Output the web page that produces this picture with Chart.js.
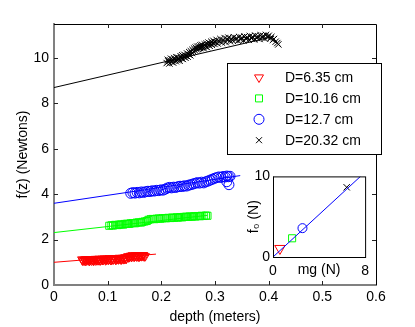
<!DOCTYPE html>
<html>
<head>
<meta charset="utf-8">
<script src="https://cdn.jsdelivr.net/npm/chart.js@4.4.1/dist/chart.umd.min.js"></script>
<style>
body { margin: 0; background: #fff; }
#wrap { position: relative; width: 415px; height: 327px; }
#main { position: absolute; left: 0; top: 0; }
#inset { position: absolute; left: 240px; top: 165px; }
</style>
</head>
<body>
<div id="wrap">
<canvas id="main" width="415" height="327"></canvas>
<canvas id="inset" width="135" height="115"></canvas>
</div>
<script>
// main axes: depth (m) vs f(z) (N)
const xTicks = [0, 0.1, 0.2, 0.3, 0.4, 0.5, 0.6];
const xTickLabels = ['0', '0.1', '0.2', '0.3', '0.4', '0.5', '0.6'];
const yTicks = [0, 2, 4, 6, 8, 10];
const yTickLabels = ['0', '2', '4', '6', '8', '10'];
const legendLabels = ['D=6.35 cm', 'D=10.16 cm', 'D=12.7 cm', 'D=20.32 cm'];

const redPts = [[0.052,1.13],[0.053,1.09],[0.054,1.07],[0.056,1.12],[0.057,1.10],[0.058,1.06],[0.059,1.14],[0.060,1.11],[0.061,1.08],[0.063,1.13],
  [0.064,1.12],[0.065,1.09],[0.066,1.06],[0.067,1.14],[0.068,1.11],[0.070,1.08],[0.071,1.14],[0.072,1.12],[0.073,1.09],[0.074,1.07],
  [0.075,1.13],[0.077,1.15],[0.078,1.08],[0.079,1.11],[0.080,1.15],[0.082,1.09],[0.083,1.11],[0.084,1.16],[0.085,1.14],[0.086,1.08],
  [0.087,1.10],[0.089,1.13],[0.090,1.16],[0.091,1.10],[0.092,1.12],[0.094,1.17],[0.095,1.15],[0.096,1.09],[0.097,1.11],[0.098,1.14],
  [0.099,1.17],[0.101,1.11],[0.102,1.13],[0.103,1.18],[0.104,1.16],[0.106,1.10],[0.107,1.12],[0.108,1.15],[0.109,1.18],[0.110,1.12],
  [0.111,1.14],[0.113,1.19],[0.114,1.17],[0.115,1.11],[0.116,1.13],[0.118,1.16],[0.119,1.19],[0.120,1.13],[0.121,1.15],[0.122,1.20],
  [0.123,1.18],[0.125,1.12],[0.126,1.14],[0.127,1.17],[0.128,1.20],[0.130,1.14],[0.131,1.16],[0.132,1.22],[0.133,1.21],[0.134,1.15],
  [0.135,1.17],[0.137,1.24],[0.138,1.27],[0.139,1.22],[0.140,1.23],[0.142,1.28],[0.143,1.29],[0.144,1.24],[0.145,1.25],[0.146,1.31],
  [0.147,1.30],[0.149,1.25],[0.150,1.26],[0.151,1.29],[0.152,1.31],[0.154,1.26],[0.155,1.27],[0.156,1.32],[0.157,1.30],[0.158,1.25],
  [0.159,1.26],[0.161,1.29],[0.162,1.32],[0.163,1.27],[0.164,1.28],[0.166,1.32],[0.167,1.31],[0.168,1.26],[0.170,1.27]];
const greenPts = [[0.103,2.61],[0.107,2.63],[0.110,2.62],[0.114,2.65],[0.118,2.64],[0.121,2.66],[0.125,2.67],[0.129,2.66],[0.132,2.69],[0.136,2.70],
  [0.140,2.69],[0.143,2.72],[0.147,2.73],[0.151,2.72],[0.154,2.75],[0.158,2.76],[0.162,2.75],[0.165,2.78],[0.169,2.80],[0.173,2.82],
  [0.176,2.87],[0.180,2.90],[0.184,2.91],[0.187,2.90],[0.191,2.92],[0.195,2.93],[0.198,2.92],[0.202,2.94],[0.206,2.95],[0.209,2.94],
  [0.213,2.96],[0.217,2.95],[0.220,2.97],[0.224,2.96],[0.228,2.98],[0.231,2.97],[0.235,2.99],[0.239,2.98],[0.242,3.00],[0.246,3.01],
  [0.250,3.00],[0.253,3.02],[0.257,3.01],[0.261,3.03],[0.264,3.02],[0.268,3.04],[0.272,3.03],[0.275,3.05],[0.279,3.04],[0.283,3.06],[0.286,3.05]];
const bluePts = [[0.143,4.04],[0.147,4.07],[0.151,4.05],[0.155,4.08],[0.159,4.06],[0.163,4.10],[0.167,4.08],[0.171,4.11],[0.175,4.13],[0.179,4.12],
  [0.183,4.15],[0.187,4.14],[0.191,4.17],[0.195,4.16],[0.199,4.19],[0.203,4.18],[0.207,4.22],[0.211,4.27],[0.215,4.30],[0.219,4.28],
  [0.223,4.31],[0.227,4.30],[0.231,4.33],[0.235,4.35],[0.239,4.34],[0.243,4.37],[0.247,4.36],[0.251,4.40],[0.255,4.42],[0.259,4.45],
  [0.263,4.48],[0.267,4.51],[0.271,4.49],[0.275,4.53],[0.279,4.50],[0.283,4.55],[0.287,4.58],[0.291,4.62],[0.295,4.66],[0.299,4.70],
  [0.303,4.73],[0.307,4.76],[0.311,4.74],[0.315,4.78],[0.319,4.76],[0.322,4.80],[0.325,4.77],[0.328,4.79],[0.322,4.55],[0.326,4.42]];
const blackPts = [[0.210,9.78],[0.212,9.92],[0.213,9.85],[0.215,9.76],[0.216,9.90],[0.218,9.97],[0.219,9.83],[0.221,9.92],[0.222,9.80],[0.224,10.00],
  [0.225,9.93],[0.227,9.86],[0.228,10.04],[0.230,9.91],[0.231,10.02],[0.233,9.96],[0.234,9.88],[0.236,10.08],[0.237,9.99],[0.239,10.12],
  [0.240,9.96],[0.242,10.06],[0.243,10.14],[0.245,10.01],[0.246,10.10],[0.248,10.20],[0.249,10.06],[0.251,10.16],[0.252,10.26],[0.254,10.12],
  [0.255,10.30],[0.257,10.22],[0.258,10.36],[0.260,10.28],[0.261,10.42],[0.263,10.33],[0.264,10.46],[0.266,10.38],[0.267,10.50],[0.269,10.40],
  [0.270,10.52],[0.272,10.44],[0.273,10.56],[0.275,10.47],[0.276,10.58],[0.278,10.50],[0.279,10.43],[0.281,10.60],[0.282,10.52],[0.284,10.63],
  [0.285,10.48],[0.287,10.60],[0.288,10.68],[0.290,10.54],[0.291,10.64],[0.293,10.72],[0.294,10.58],[0.296,10.66],[0.297,10.76],[0.299,10.62],
  [0.300,10.70],[0.303,10.80],[0.305,10.64],[0.308,10.74],[0.310,10.84],[0.313,10.68],[0.315,10.78],[0.318,10.88],[0.320,10.70],[0.323,10.82],
  [0.325,10.90],[0.328,10.74],[0.330,10.85],[0.333,10.78],[0.335,10.92],[0.338,10.80],[0.340,10.88],[0.343,10.76],[0.345,10.93],[0.348,10.82],
  [0.350,10.90],[0.353,10.78],[0.355,10.95],[0.358,10.84],[0.360,10.92],[0.363,10.80],[0.365,10.97],[0.368,10.86],[0.370,10.94],[0.373,10.82],
  [0.375,10.99],[0.378,10.88],[0.380,10.96],[0.383,10.84],[0.385,11.00],[0.388,10.90],[0.390,10.98],[0.393,10.86],[0.395,11.02],[0.398,10.92],
  [0.400,10.98],[0.403,10.86],[0.405,10.93],[0.408,10.80],[0.410,10.84],[0.413,10.72],[0.416,10.66],[0.418,10.60]];

// fitted lines (two end points each)
const redFit = [[0, 1.0], [0.19, 1.36]];
const greenFit = [[0, 2.31], [0.286, 3.07]];
const blueFit = [[0, 3.6], [0.347, 4.82]];
const blackFit = [[0, 8.7], [0.41, 10.95]];

// inset: mg (N) vs f0 (N)
const insetMg = [0.6, 1.66, 2.56, 6.4];
const insetF0 = [1.06, 2.32, 3.58, 8.65];
const insetFit = [[0, 0], [7.6, 10]];
const insetXTicks = [0, 8];
const insetYTicks = [0, 10];

const FONT = '"Liberation Sans", Arial, Helvetica, sans-serif';
Chart.defaults.font.family = FONT;
Chart.defaults.font.size = 14;
Chart.defaults.color = '#000';

const pts = a => a.map(p => ({x: p[0], y: p[1]}));
const line = (d, c) => ({data: pts(d), showLine: true, borderColor: c, borderWidth: 1, pointRadius: 0, order: 0});
const marks = (d, c, style, r, extra) => Object.assign({data: pts(d), pointStyle: style, pointRadius: r,
  borderColor: c, backgroundColor: 'rgba(0,0,0,0)', pointBorderWidth: 1, borderWidth: 1, order: 1}, extra || {});

function drawMarker(ctx, kind, x, y, color) {
  ctx.strokeStyle = color;
  ctx.lineWidth = 1;
  ctx.beginPath();
  if (kind === 'tri') {
    ctx.moveTo(x, y + 5); ctx.lineTo(x - 4.5, y - 2.6); ctx.lineTo(x + 4.5, y - 2.6); ctx.closePath();
  } else if (kind === 'sq') {
    ctx.rect(x - 3.5, y - 3.5, 7, 7);
  } else if (kind === 'circ') {
    ctx.arc(x, y, 5, 0, Math.PI * 2);
  } else {
    ctx.moveTo(x - 3, y - 3); ctx.lineTo(x + 3, y + 3); ctx.moveTo(x + 3, y - 3); ctx.lineTo(x - 3, y + 3);
  }
  ctx.stroke();
}

const frame = {
  id: 'frame',
  afterDraw(chart) {
    const {ctx, chartArea: a, scales: {x, y}} = chart;
    ctx.save();
    ctx.strokeStyle = '#000';
    ctx.lineWidth = 1;
    ctx.beginPath();
    ctx.moveTo(a.left, a.top + 0.5); ctx.lineTo(a.right + 0.5, a.top + 0.5); ctx.lineTo(a.right + 0.5, a.bottom);
    ctx.stroke();
    ctx.strokeStyle = '#222';
    ctx.beginPath();
    xTicks.slice(1, -1).forEach(v => {
      const px = Math.round(x.getPixelForValue(v)) + 0.5;
      ctx.moveTo(px, a.bottom); ctx.lineTo(px, a.bottom - 4);
      ctx.moveTo(px, a.top); ctx.lineTo(px, a.top + 4);
    });
    yTicks.slice(1).forEach(v => {
      const py = Math.round(y.getPixelForValue(v)) + 0.5;
      ctx.moveTo(a.left, py); ctx.lineTo(a.left + 4, py);
      ctx.moveTo(a.right, py); ctx.lineTo(a.right - 4, py);
    });
    ctx.stroke();

    // legend box
    const lx = 227.5, ly = 63.5, lw = 154, lh = 91;
    ctx.fillStyle = '#fff';
    ctx.fillRect(lx, ly, lw, lh);
    ctx.strokeStyle = '#000';
    ctx.strokeRect(lx, ly, lw, lh);
    const kinds = ['tri', 'sq', 'circ', 'x'];
    const colors = ['#ff0000', '#00ff00', '#0000ff', '#000000'];
    ctx.font = '14px ' + FONT;
    ctx.textBaseline = 'middle';
    ctx.textAlign = 'left';
    legendLabels.forEach((t, i) => {
      const ry = 77.5 + i * 20.9;
      drawMarker(ctx, kinds[i], 259, ry, colors[i]);
      ctx.fillStyle = '#000';
      ctx.fillText(t, 285, ry + 0.5);
    });
    ctx.restore();
  }
};

new Chart(document.getElementById('main'), {
  type: 'scatter',
  data: {
    datasets: [
      line(redFit, '#ff0000'), line(greenFit, '#00ff00'), line(blueFit, '#0000ff'), line(blackFit, '#000000'),
      marks(redPts, '#ff0000', 'triangle', 5, {rotation: 180}),
      marks(greenPts, '#00ff00', 'rect', 5),
      marks(bluePts, '#0000ff', 'circle', 5),
      marks(blackPts, '#000000', 'crossRot', 4.5)
    ]
  },
  options: {
    responsive: false,
    animation: false,
    devicePixelRatio: 1,
    layout: {padding: {top: 24, right: 39, left: 0, bottom: 0}},
    plugins: {legend: {display: false}, tooltip: {enabled: false}},
    scales: {
      x: {
        type: 'linear', min: 0, max: 0.6,
        afterFit: s => { s.height = 42; },
        afterBuildTicks: s => { s.ticks = xTicks.map(v => ({value: v})); },
        ticks: {callback: (v, i) => xTickLabels[i], padding: 4, autoSkip: false, maxRotation: 0},
        grid: {display: false, drawTicks: false},
        border: {color: '#808080', width: 2},
        title: {display: true, text: 'depth (meters)', padding: {top: 0, bottom: 1}}
      },
      y: {
        type: 'linear', min: 0, max: 11.5,
        afterFit: s => { s.width = 54; },
        afterBuildTicks: s => { s.ticks = yTicks.map(v => ({value: v})); },
        ticks: {callback: (v, i) => yTickLabels[i], padding: 5, autoSkip: false},
        grid: {display: false, drawTicks: false},
        border: {color: '#808080', width: 2},
        title: {display: true, text: 'f(z) (Newtons)', padding: {top: 15, bottom: 0}}
      }
    }
  },
  plugins: [frame]
});

const insetFrame = {
  id: 'insetFrame',
  beforeDatasetsDraw(chart) {
    const {ctx, chartArea: a} = chart;
    ctx.save();
    ctx.fillStyle = '#fff';
    ctx.fillRect(a.left, a.top, a.right - a.left, a.bottom - a.top);
    ctx.restore();
  },
  afterDraw(chart) {
    const {ctx, chartArea: a} = chart;
    ctx.save();
    ctx.strokeStyle = '#000';
    ctx.lineWidth = 1;
    ctx.strokeRect(a.left + 0.5, a.top + 0.5, a.right - a.left, a.bottom - a.top);
    ctx.restore();
  }
};

const insetPoint = i => [[insetMg[i], insetF0[i]]];

new Chart(document.getElementById('inset'), {
  type: 'scatter',
  data: {
    datasets: [
      line(insetFit, '#0000ff'),
      marks(insetPoint(0), '#ff0000', 'triangle', 6, {rotation: 180}),
      marks(insetPoint(1), '#00ff00', 'rect', 5),
      marks(insetPoint(2), '#0000ff', 'circle', 4.5),
      marks(insetPoint(3), '#000000', 'crossRot', 4.5)
    ]
  },
  options: {
    responsive: false,
    animation: false,
    devicePixelRatio: 1,
    layout: {padding: {top: 10, right: 9, left: 0, bottom: 0}},
    plugins: {legend: {display: false}, tooltip: {enabled: false}},
    scales: {
      x: {
        type: 'linear', min: 0, max: 8,
        afterFit: s => { s.height = 23; },
        afterBuildTicks: s => { s.ticks = insetXTicks.map(v => ({value: v})); },
        ticks: {padding: 6, autoSkip: false, maxRotation: 0},
        grid: {display: false, drawTicks: false},
        border: {color: '#000', width: 1},
        title: {display: true, text: 'mg (N)', padding: {top: 0, bottom: 1}}
      },
      y: {
        type: 'linear', min: 0, max: 10,
        afterFit: s => { s.width = 33; },
        afterBuildTicks: s => { s.ticks = insetYTicks.map(v => ({value: v})); },
        ticks: {padding: 3, autoSkip: false},
        grid: {display: false, drawTicks: false},
        border: {color: '#000', width: 1},
        title: {display: true, text: 'f\u2080 (N)', padding: {top: 6, bottom: 0}}
      }
    }
  },
  plugins: [insetFrame]
});
</script>
</body>
</html>
